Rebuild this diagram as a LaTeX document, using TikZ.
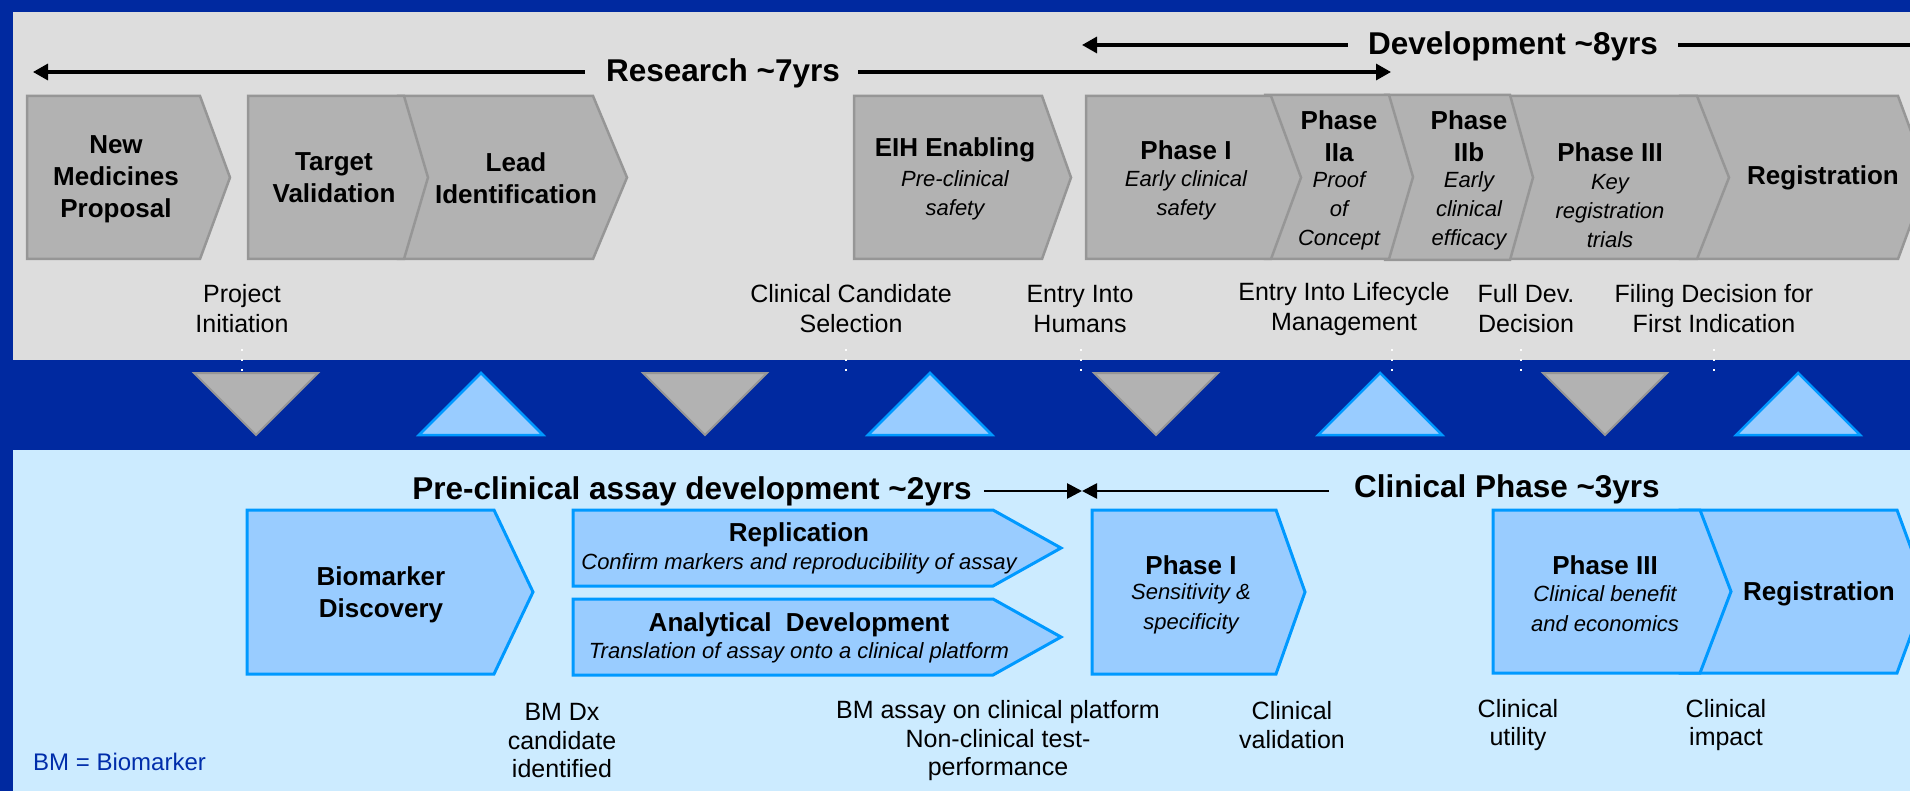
\documentclass[tikz,border=0pt]{standalone}
\usepackage{fontspec}
\setmainfont{Liberation Sans}
\usetikzlibrary{arrows.meta}
\definecolor{bgblue}{RGB}{0,41,160}
\definecolor{panelgray}{RGB}{221,221,221}
\definecolor{chevgray}{RGB}{178,178,178}
\definecolor{edgegray}{RGB}{150,150,150}
\definecolor{panelblue}{RGB}{204,235,255}
\definecolor{chevblue}{RGB}{153,204,255}
\definecolor{edgeblue}{RGB}{0,153,255}
\definecolor{bmblue}{RGB}{0,45,170}
\newcommand{\pentchev}[6]{\draw[#1] (#2,#5) -- (#3,#5) -- (#4,{(#5+#6)/2}) -- (#3,#6) -- (#2,#6) -- cycle;}
\newcommand{\downtri}[1]{\draw[graytri] ({#1-62},373) -- ({#1+62},373) -- (#1,435) -- cycle;}
\newcommand{\uptri}[1]{\draw[bluetri] ({#1-62},435) -- ({#1+62},435) -- (#1,373) -- cycle;}
\newcommand{\msdots}[1]{\draw[white, line width=2pt, dash pattern=on 2pt off 8pt] (#1,349) -- (#1,373);}
\begin{document}
\begin{tikzpicture}[x=1pt,y=-1pt,
  graychev/.style={fill=chevgray, draw=edgegray, line width=2.5pt},
  bluechev/.style={fill=chevblue, draw=edgeblue, line width=3pt},
  graytri/.style={fill=chevgray, draw=edgegray, line width=2pt},
  bluetri/.style={fill=chevblue, draw=edgeblue, line width=2.5pt},
  ttl/.style={font=\fontsize{31.5}{36}\selectfont\bfseries, inner sep=0pt},
  chevtitle/.style={font=\fontsize{26}{32}\selectfont\bfseries, align=center, inner sep=0pt},
  sub/.style={font=\fontsize{22}{29}\selectfont\itshape, align=center, inner sep=0pt},
  subl/.style={font=\fontsize{22}{30}\selectfont\itshape, align=center, inner sep=0pt},
  lbl/.style={font=\fontsize{25}{30}\selectfont, align=center, inner sep=0pt},
  lbll/.style={font=\fontsize{25}{28.5}\selectfont, align=center, inner sep=0pt},
  toparrow/.style={line width=3.2pt, -{Triangle[length=15pt,width=16pt]}},
  lowarrow/.style={line width=2.7pt, -{Triangle[length=15pt,width=15pt]}}]
\useasboundingbox (0,0) rectangle (1910,791);
\fill[bgblue] (0,0) rectangle (1910,791);
\fill[panelgray] (13,12) rectangle (1910,360);
\fill[panelblue] (13,450) rectangle (1910,791);

% ---- top row chevrons (drawn right to left so tips overlap) ----
\pentchev{graychev}{1680}{1898}{1928}{96}{259}
\pentchev{graychev}{1500}{1697}{1729}{96}{259}
\pentchev{graychev}{1385}{1510}{1533}{95}{260}
\pentchev{graychev}{1265}{1389}{1413}{95}{259}
\pentchev{graychev}{1086}{1271}{1301}{96}{259}
\pentchev{graychev}{854}{1042}{1071}{96}{259}
\pentchev{graychev}{398}{593}{627}{96}{259}
\pentchev{graychev}{248}{404}{428}{96}{259}
\pentchev{graychev}{27}{200}{230}{96}{259}

% ---- top timeline ----
\node[ttl] (research) at (723,73) {Research \textasciitilde7yrs};
\coordinate (resL) at (33,72);
\coordinate (resR) at (1391,72);
\draw[toparrow] ([xshift=-21pt]research.west |- resL) -- (resL);
\draw[toparrow] ([xshift=18pt]research.east |- resR) -- (resR);
\node[ttl] (devel) at (1513,46) {Development \textasciitilde8yrs};
\coordinate (devL) at (1082,45);
\coordinate (devR) at (1915,45);
\draw[toparrow] ([xshift=-20pt]devel.west |- devL) -- (devL);
\draw[line width=3.2pt] ([xshift=20pt]devel.east |- devR) -- (devR);

% ---- top chevron texts ----
\node[chevtitle] (nmp) at (116,179) {New\\Medicines\\Proposal};
\node[chevtitle] (tv) at (334,178) {Target\\Validation};
\node[chevtitle] (li) at (516,178) {Lead\\Identification};
\node[chevtitle] (eih) at (955,150) {EIH Enabling};
\node[sub] (eihs) at (955,195) {Pre-clinical\\safety};
\node[chevtitle] (p1) at (1186,150) {Phase I};
\node[sub] (p1s) at (1186,195) {Early clinical\\safety};
\node[chevtitle] (p2a) at (1339,136) {Phase\\IIa};
\node[sub] (p2as) at (1339,211) {Proof\\of\\Concept};
\node[chevtitle] (p2b) at (1469,136) {Phase\\IIb};
\node[sub] (p2bs) at (1469,211) {Early\\clinical\\efficacy};
\node[chevtitle] (p3) at (1610,152) {Phase III};
\node[sub] (p3s) at (1610,211) {Key\\registration\\trials};
\node[chevtitle] (reg) at (1823,178) {Registration};

% ---- top milestones ----
\node[lbl] (m1) at (242,309) {Project\\Initiation};
\node[lbl] (m2) at (851,309) {Clinical Candidate\\Selection};
\node[lbl] (m3) at (1080,309) {Entry Into\\Humans};
\node[lbl] (m4) at (1344,309) {Entry Into Lifecycle\\Management};
\node[lbl] (m5) at (1526,309) {Full Dev.\\Decision};
\node[lbl] (m6) at (1714,309) {Filing Decision for\\First Indication};

% ---- dotted ticks ----
\msdots{242}
\msdots{846}
\msdots{1081}
\msdots{1392}
\msdots{1521}
\msdots{1714}

% ---- triangles ----
\downtri{256}
\uptri{481}
\downtri{705}
\uptri{930}
\downtri{1156}
\uptri{1380}
\downtri{1605}
\uptri{1798}

% ---- lower row chevrons ----
\pentchev{bluechev}{1680}{1897}{1927}{510}{673}
\pentchev{bluechev}{1493}{1700}{1731}{510}{673}
\pentchev{bluechev}{1092}{1276}{1305}{510}{674}
\pentchev{bluechev}{573}{993}{1061}{510}{586}
\pentchev{bluechev}{573}{993}{1061}{599}{675}
\pentchev{bluechev}{247}{494}{533}{510}{674}

% ---- lower timeline ----
\node[ttl] (precl) at (692,491) {Pre-clinical assay development \textasciitilde2yrs};
\node[ttl] (clin) at (1507,489) {Clinical Phase \textasciitilde3yrs};
\coordinate (meet) at (1082,491);
\draw[lowarrow] ([xshift=12pt]precl.east |- meet) -- (meet);
\draw[lowarrow] ([xshift=-25pt]clin.west |- meet) -- (meet);

% ---- lower chevron texts ----
\node[chevtitle] (bd) at (381,595) {Biomarker\\Discovery};
\node[chevtitle] (repl) at (799,535) {Replication};
\node[sub] (repls) at (799,564) {Confirm markers and reproducibility of assay};
\node[chevtitle] (anal) at (799,625) {Analytical\ \ Development};
\node[sub] (anals) at (799,653) {Translation of assay onto a clinical platform};
\node[chevtitle] (cp1) at (1191,565) {Phase I};
\node[subl] (cp1s) at (1191,609) {Sensitivity \&\\specificity};
\node[chevtitle] (cp3) at (1605,565) {Phase III};
\node[subl] (cp3s) at (1605,609) {Clinical benefit\\and economics};
\node[chevtitle] (creg) at (1819,594) {Registration};

% ---- lower milestones ----
\node[lbll] (b1) at (562,741) {BM Dx\\candidate\\identified};
\node[lbll] (b2) at (998,741) {BM assay on clinical platform\\Non-clinical test-\\performance};
\node[lbll] (b3) at (1292,725) {Clinical\\validation};
\node[lbll] (b4) at (1518,725) {Clinical\\utility};
\node[lbll] (b5) at (1726,725) {Clinical\\impact};
\node[font=\fontsize{24}{28}\selectfont, text=bmblue, anchor=west, inner sep=0pt] (bm) at (33,762) {BM = Biomarker};
\end{tikzpicture}
\end{document}
